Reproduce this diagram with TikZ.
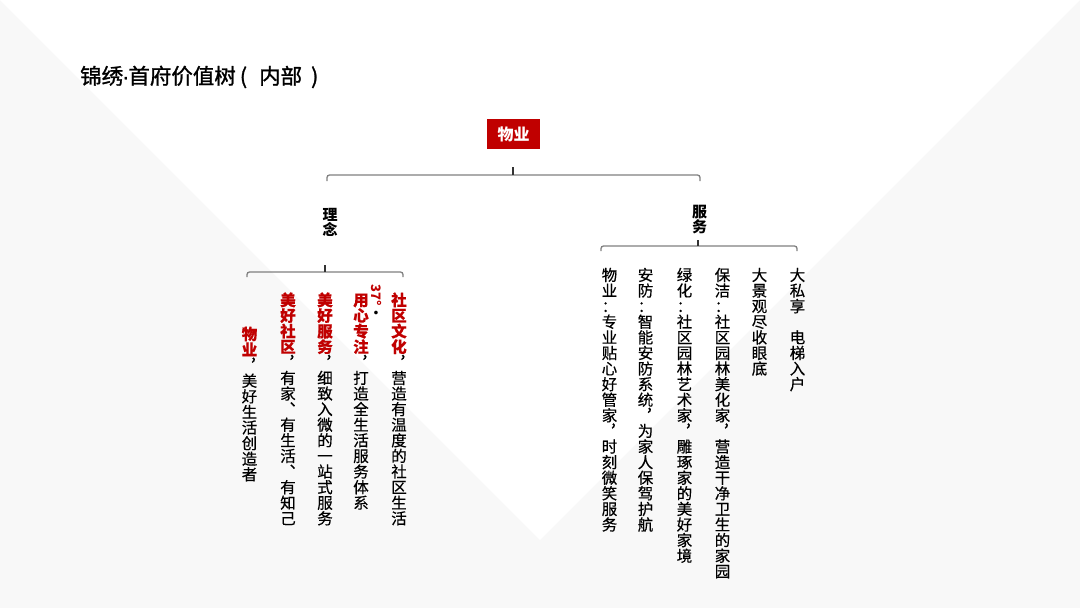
\documentclass[tikz,border=0pt]{standalone}
\usepackage{fontspec}
\setmainfont{Noto Sans CJK SC}
\newfontfamily\titlefont{Noto Sans CJK SC}[FakeBold=1.2]
\newfontfamily\bodyfont{Noto Sans CJK SC}[FakeBold=0.4]
\newfontfamily\latinfont{Liberation Sans}[FakeBold=1.5]
\definecolor{hred}{HTML}{C00000}
\definecolor{bggray}{HTML}{F8F8F8}
\definecolor{lgray}{HTML}{808080}
\newlength\vpitch
\setlength\vpitch{15.6pt}
\ExplSyntaxOn
\NewDocumentCommand\vtext{O{}m}{\tl_map_inline:nn{#2}{\hbox to 1.1em{\hss\vrule height .88em depth .12em width 0pt #1 ##1\hss}}}
\ExplSyntaxOff
\newcommand\vcol[1]{\vbox{\baselineskip=\vpitch\lineskiplimit=-50pt\lineskip=0pt #1}}
\tikzset{
  vcolumn/.style={anchor=north, inner sep=0pt, font=\bodyfont\fontsize{15.5}{15.6}\selectfont},
  headlabel/.style={anchor=north, inner sep=0pt, font=\bfseries\fontsize{15}{15}\selectfont},
  bracket/.style={draw=lgray, line width=1.3pt, rounded corners=2.5pt},
  tick/.style={draw=black!80, line width=1.3pt},
}
\begin{document}
\begin{tikzpicture}[x=1pt,y=-1pt]
\useasboundingbox (0,0) rectangle (1080,608);
% background
\fill[bggray] (0,0) -- (608,608) -- (0,608) -- cycle;
\fill[bggray] (1080,0) -- (472,608) -- (1080,608) -- cycle;

% title
\node[anchor=base west, inner sep=0pt, font=\titlefont\fontsize{21.5}{21.5}\selectfont] (title) at (80,84) {锦绣\kern-1pt{\latinfont·}\kern-1pt首府价值树\kern4pt(\kern12pt内部\kern9pt)};

% root
\node[fill=hred, minimum width=53pt, minimum height=30pt, inner sep=0pt, text=white, font=\bfseries\fontsize{16}{16}\selectfont] (root) at (513.5,134) {物业};

% level 1 labels
\node[headlabel] (linian) at (330,207) {\setlength\vpitch{15pt}\vcol{\vtext{理念}}};
\node[headlabel] (fuwu) at (699.5,204) {\setlength\vpitch{15pt}\vcol{\vtext{服务}}};

% top bracket
\coordinate (tTop) at (513,167);
\coordinate (tMid) at (513,175);
\coordinate (tL) at (327,181);
\coordinate (tR) at (700,181);
\draw[bracket] (tL) -- (327,175) -- (700,175) -- (tR);
\draw[tick] (tTop) -- (tMid);

% linian bracket
\coordinate (lTop) at (325,265);
\coordinate (lMid) at (325,272);
\coordinate (lL) at (247,277);
\coordinate (lR) at (403,277);
\draw[bracket] (lL) -- (247,272) -- (403,272) -- (lR);
\draw[tick] (lTop) -- (lMid);

% fuwu bracket
\coordinate (fTop) at (698,240);
\coordinate (fMid) at (698,246);
\coordinate (fL) at (601,251);
\coordinate (fR) at (797,251);
\draw[bracket] (fL) -- (601,246) -- (797,246) -- (fR);
\draw[tick] (fTop) -- (fMid);

% left columns
\node[vcolumn] (c1) at (249.5,326) {\vcol{\vtext[\color{hred}\bfseries]{物业}\vtext{︐美好生活创造者}}};
\node[vcolumn] (c2) at (288,292) {\vcol{\vtext[\color{hred}\bfseries]{美好社区}\vtext{︐有家︑有生活︑有知己}}};
\node[vcolumn] (c3) at (325,292) {\vcol{\vtext[\color{hred}\bfseries]{美好服务}\vtext{︐细致入微的一站式服务}}};
\node[vcolumn] (c4) at (361,292) {\vcol{\vtext[\color{hred}\bfseries]{用心专注}\vtext{︐打造全生活服务体系}}};
\node[inner sep=0pt, rotate=-90, font=\bfseries\fontsize{13}{13}\selectfont] (deg) at (377,302) {\textcolor{hred}{37°}·};
\node[vcolumn] (c5) at (399,292) {\vcol{\vtext[\color{hred}\bfseries]{社区文化}\vtext{︐营造有温度的社区生活}}};

% right columns
\node[vcolumn] (r1) at (609.5,267) {\vcol{\vtext{物业：专业贴心好管家︐时刻微笑服务}}};
\node[vcolumn] (r2) at (645.5,267) {\vcol{\vtext{安防：智能安防系统︐为家人保驾护航}}};
\node[vcolumn] (r3) at (684.5,267) {\vcol{\vtext{绿化：社区园林艺术家︐雕琢家的美好家境}}};
\node[vcolumn] (r4) at (722.5,267) {\vcol{\vtext{保洁：社区园林美化家︐营造干净卫生的家园}}};
\node[vcolumn] (r5) at (759.5,267) {\vcol{\vtext{大景观尽收眼底}}};
\node[vcolumn] (r6) at (797.5,267) {\vcol{\vtext{大私享　电梯入户}}};
\end{tikzpicture}
\end{document}
